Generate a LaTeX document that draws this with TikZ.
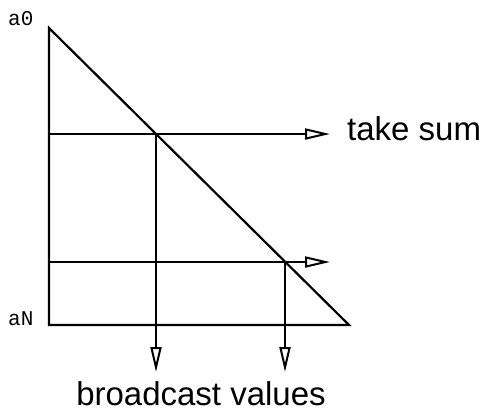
\documentclass[tikz,border=0pt]{standalone}
\usepackage{fontspec}
\setmainfont{Liberation Sans}
\setmonofont{Liberation Mono}
\usetikzlibrary{arrows.meta}
\tikzset{
  ln/.style={line width=2.2pt, line cap=butt, line join=miter},
  arr/.style={ln, -{Triangle[open, length=25pt, width=11pt, line width=2pt]}},
  biglabel/.style={inner sep=0pt, font=\fontsize{33}{40}\selectfont},
  smalllabel/.style={inner sep=0pt, font=\ttfamily\fontsize{21}{24}\selectfont}
}
\begin{document}
\begin{tikzpicture}[x=1pt, y=-1pt]
\useasboundingbox (0,0) rectangle (489,413);
% triangle corners
\coordinate (A) at (49,28);
\coordinate (B) at (49,325);
\coordinate (C) at (349,325);
% upper line
\coordinate (L1) at (49,134);
\coordinate (P1) at (156,134);
\coordinate (T1) at (330,134);
\coordinate (D1) at (156,372);
% lower line
\coordinate (L2) at (49,262);
\coordinate (P2) at (285,262);
\coordinate (T2) at (330,262);
\coordinate (D2) at (285,372);

\draw[ln] (A) -- (B) -- (C) -- cycle;
\draw[arr] (L1) -- (T1);
\draw[arr] (L2) -- (T2);
\draw[arr] (P1) -- (D1);
\draw[arr] (P2) -- (D2);

\node[smalllabel, anchor=base west] (a0) at (8,25) {a0};
\node[smalllabel, anchor=base west] (aN) at (8,325) {aN};
\node[biglabel, anchor=base west] (sum) at (347,140) {take sum};
\node[biglabel, anchor=base] (bc) at (201,405) {broadcast values};
\end{tikzpicture}
\end{document}
